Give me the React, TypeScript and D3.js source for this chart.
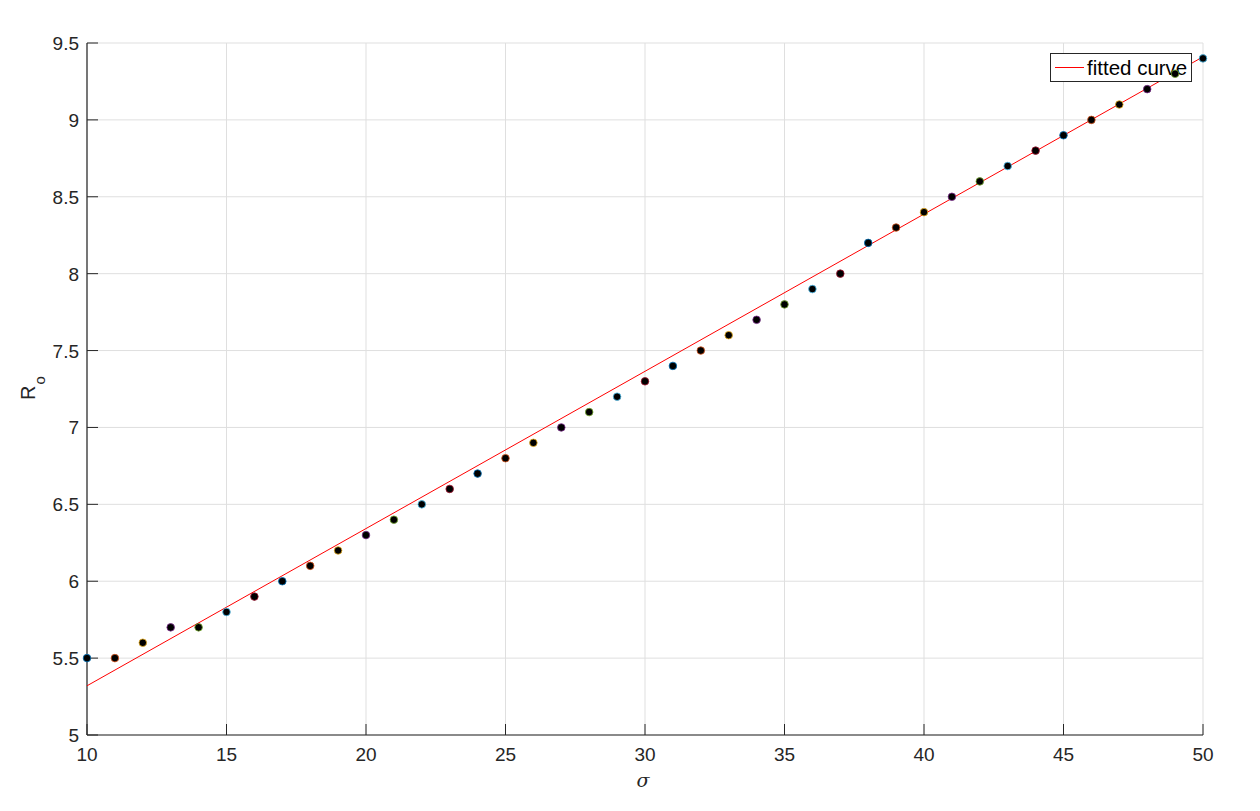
import React from 'react';
import * as d3 from 'd3';

// sigma values and measured R_o
const sigmaVals = [10, 11, 12, 13, 14, 15, 16, 17, 18, 19, 20, 21, 22, 23, 24, 25, 26, 27, 28, 29, 30,
  31, 32, 33, 34, 35, 36, 37, 38, 39, 40, 41, 42, 43, 44, 45, 46, 47, 48, 49, 50];
const roVals = [5.5, 5.5, 5.6, 5.7, 5.7, 5.8, 5.9, 6.0, 6.1, 6.2, 6.3, 6.4, 6.5, 6.6, 6.7, 6.8, 6.9, 7.0, 7.1, 7.2, 7.3,
  7.4, 7.5, 7.6, 7.7, 7.8, 7.9, 8.0, 8.2, 8.3, 8.4, 8.5, 8.6, 8.7, 8.8, 8.9, 9.0, 9.1, 9.2, 9.3, 9.4];

// fitted line end points
const fitX = [10, 50];
const fitY = [5.32, 9.41];

const xTicks = [10, 15, 20, 25, 30, 35, 40, 45, 50];
const yTicks = [5, 5.5, 6, 6.5, 7, 7.5, 8, 8.5, 9, 9.5];

// matlab default colour order, used for marker edges
const edgeColors = ['#0072BD', '#D95319', '#EDB120', '#7E2F8E', '#77AC30', '#4DBEEE', '#A2142F'];

const W = 1260, H = 811;
const left = 87, right = 1203, top = 43, bottom = 735;
const font = '"Liberation Sans", Arial, sans-serif';
const axisCol = '#262626';

const App = () => {
  const x = d3.scaleLinear().domain([10, 50]).range([left, right]);
  const y = d3.scaleLinear().domain([5, 9.5]).range([bottom, top]);
  const line = d3.line<number>().x((d, i) => x(fitX[i])).y(d => y(d));

  return (
    <svg width={W} height={H} style={{ position: 'absolute', left: 0, top: 0, background: '#fff' }}>
      {/* grid */}
      {xTicks.map(t => (
        <line key={'gx' + t} x1={x(t)} x2={x(t)} y1={top} y2={bottom} stroke="#dfdfdf" strokeWidth={1} />
      ))}
      {yTicks.map(t => (
        <line key={'gy' + t} x1={left} x2={right} y1={y(t)} y2={y(t)} stroke="#dfdfdf" strokeWidth={1} />
      ))}

      {/* axes */}
      <line x1={left} x2={right} y1={bottom} y2={bottom} stroke={axisCol} strokeWidth={1.2} />
      <line x1={left} x2={left} y1={top} y2={bottom} stroke={axisCol} strokeWidth={1.2} />
      {xTicks.map(t => (
        <g key={'xt' + t}>
          <line x1={x(t)} x2={x(t)} y1={bottom} y2={bottom - 11} stroke={axisCol} />
          <text x={x(t)} y={761} textAnchor="middle" fontFamily={font} fontSize={19} fill={axisCol}>{t}</text>
        </g>
      ))}
      {yTicks.map(t => (
        <g key={'yt' + t}>
          <line x1={left} x2={left + 11} y1={y(t)} y2={y(t)} stroke={axisCol} />
          <text x={left - 8} y={y(t) + 7} textAnchor="end" fontFamily={font} fontSize={19} fill={axisCol}>{t}</text>
        </g>
      ))}

      {/* axis labels */}
      <text x={643} y={787} textAnchor="middle" fontFamily='"DejaVu Serif", "Liberation Serif", serif'
        fontStyle="italic" fontSize={19} fill={axisCol}>σ</text>
      <text transform="translate(35, 400) rotate(-90)" fontFamily={font} fontSize={20} fill={axisCol}>
        R<tspan dy={10} fontSize={15} dx={1}>o</tspan>
      </text>

      {/* fitted line */}
      <path d={line(fitY) || ''} fill="none" stroke="#ff0000" strokeWidth={1} />

      {/* legend (markers end up drawn over it, as in the original) */}
      <rect x={1050.5} y={53.5} width={141} height={28} fill="#fff" stroke={axisCol} strokeWidth={1} />
      <line x1={1055} x2={1084} y1={67.5} y2={67.5} stroke="#ff0000" strokeWidth={1} />
      <text x={1087} y={75} fontFamily={font} fontSize={20.5} fill="#000">fitted curve</text>

      {/* data points */}
      {sigmaVals.map((s, i) => (
        <circle key={'p' + s} cx={x(s)} cy={y(roVals[i])} r={3.8} fill="#000"
          stroke={edgeColors[i % edgeColors.length]} strokeWidth={0.8} />
      ))}
    </svg>
  );
};

export default App;
